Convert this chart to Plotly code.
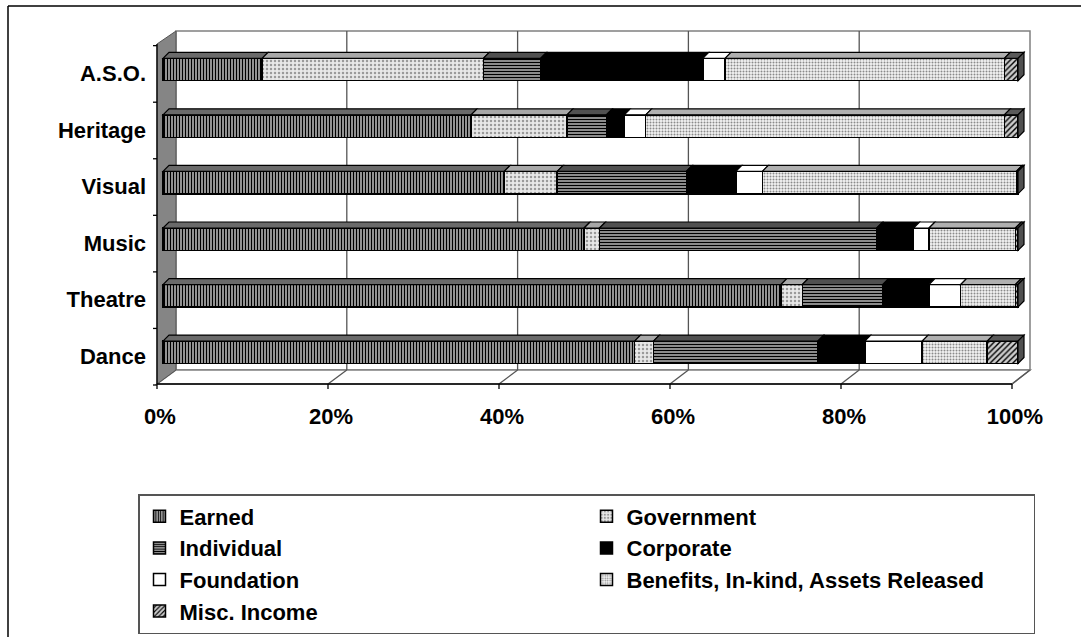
import plotly.graph_objects as go

# ---------------- data (percent of total revenue) ----------------
categories = ["Dance", "Theatre", "Music", "Visual", "Heritage", "A.S.O."]
earned      = [55.1, 72.2, 49.2, 39.9, 36.0, 11.6]
government  = [2.2, 2.5, 1.8, 6.2, 11.2, 25.9]
individual  = [19.2, 9.4, 32.4, 15.1, 4.6, 6.7]
corporate   = [5.5, 5.4, 4.3, 5.8, 2.1, 19.0]
foundation  = [6.7, 3.7, 1.8, 3.1, 2.5, 2.6]
benefits    = [7.6, 6.4, 10.1, 29.7, 41.9, 32.7]
misc_income = [3.6, 0.3, 0.3, 0.2, 1.6, 1.6]
series_names = ["Earned", "Government", "Individual", "Corporate", "Foundation",
                "Benefits, In-kind, Assets Released", "Misc. Income"]
tick_vals = [0, 20, 40, 60, 80, 100]
tick_text = ["0%", "20%", "40%", "60%", "80%", "100%"]

series = [earned, government, individual, corporate, foundation, benefits, misc_income]

# ---------------- styles ----------------
styles = [
    dict(shape="|", bg="#b0b0b0", fg="#000000", size=3, sol=0.45, top="#6a6a6a"),
    dict(shape=".", bg="#e8e8e8", fg="#9a9a9a", size=4, sol=0.3, top="#a8a8a8"),
    dict(shape="-", bg="#a8a8a8", fg="#000000", size=3, sol=0.45, top="#505050"),
    dict(shape="", bg="#000000", fg="#000000", size=4, sol=0.3, top="#000000"),
    dict(shape="", bg="#ffffff", fg="#ffffff", size=4, sol=0.3, top="#ffffff"),
    dict(shape=".", bg="#f4f4f4", fg="#8a8a8a", size=3, sol=0.35, top="#b0b0b0"),
    dict(shape="/", bg="#cccccc", fg="#000000", size=4, sol=0.35, top="#5a5a5a"),
]

FONT = "Liberation Sans, Arial, sans-serif"
FS = 22

# ---------------- geometry (pixels) ----------------
W, H = 1081, 637
PL, PR, PT, PB = 157, 1030, 31, 384          # plot area box
BAR_X0, BAR_X100 = 163, 1018                  # bar plane: 0% and 100%
ROW_Y0, ROW_STEP = 352.3, 56.56               # bar plane: first row centre, row step
SX = (BAR_X100 - BAR_X0) / 100.0
XR = [(PL - BAR_X0) / SX, (PR - BAR_X0) / SX]
YR = [(ROW_Y0 - PB) / ROW_STEP, (ROW_Y0 - PT) / ROW_STEP]
BAR_W = 22.4 / ROW_STEP
DEP_X, DEP_Y = 6.0 / SX, 6.0 / ROW_STEP       # bar depth in data units

FRONT_X0, FRONT_X100, FRONT_TOP, FRONT_BOT = 157, 1012, 44, 384
BACK_X0, BACK_X100, BACK_TOP, BACK_BOT = 176, 1030, 31, 370


def paper(xp, yp):
    return (xp - PL) / (PR - PL), (PB - yp) / (PB - PT)


def pline(x0, y0, x1, y1, color="#000000", width=1.2, layer="below"):
    a, b = paper(x0, y0), paper(x1, y1)
    return dict(type="line", xref="paper", yref="paper", x0=a[0], y0=a[1],
                x1=b[0], y1=b[1], line=dict(color=color, width=width), layer=layer)


def ppoly(pts, fill, color="#808080", width=1, layer="below"):
    s = ""
    for i, (xp, yp) in enumerate(pts):
        px, py = paper(xp, yp)
        s += ("M" if i == 0 else "L") + f"{px:.5f},{py:.5f} "
    return dict(type="path", xref="paper", yref="paper", path=s + "Z",
                fillcolor=fill, line=dict(color=color, width=width), layer=layer)


def dpoly(pts, fill, color="#000000", width=1.2):
    s = ""
    for i, (x, y) in enumerate(pts):
        s += ("M" if i == 0 else "L") + f"{x:.4f},{y:.4f} "
    return dict(type="path", xref="x", yref="y", path=s + "Z",
                fillcolor=fill, line=dict(color=color, width=width), layer="above")


shapes = []
# outer chart frame
shapes.append(pline(8, 6, 1100, 6, "#000000", 1.5))
shapes.append(pline(8, 6, 8, 660, "#000000", 1.5))
# back wall
shapes.append(ppoly([(BACK_X0, BACK_TOP), (BACK_X100, BACK_TOP), (BACK_X100, BACK_BOT),
                     (BACK_X0, BACK_BOT)], "#ffffff", "#808080", 1.5))
# floor
shapes.append(ppoly([(FRONT_X0, FRONT_BOT), (BACK_X0, BACK_BOT), (BACK_X100, BACK_BOT),
                     (FRONT_X100, FRONT_BOT)], "#ffffff", "#808080", 1.5))
# gridlines on back wall and floor
for v in tick_vals[1:]:
    xb = BACK_X0 + (BACK_X100 - BACK_X0) * v / 100
    xf = FRONT_X0 + (FRONT_X100 - FRONT_X0) * v / 100
    if v < 100:
        shapes.append(pline(xb, BACK_TOP, xb, BACK_BOT, "#555555", 1.3))
    shapes.append(pline(xb, BACK_BOT, xf, FRONT_BOT, "#555555", 1.3))
# left wall
shapes.append(ppoly([(FRONT_X0, FRONT_TOP), (BACK_X0, BACK_TOP), (BACK_X0, BACK_BOT),
                     (FRONT_X0, FRONT_BOT)], "#858585", "#555555", 1))
# front axes
shapes.append(pline(FRONT_X0, FRONT_TOP, FRONT_X0, FRONT_BOT, "#000000", 1.3))
shapes.append(pline(FRONT_X0, FRONT_BOT, FRONT_X100, FRONT_BOT, "#000000", 1.3))
for v in tick_vals:
    xf = FRONT_X0 + (FRONT_X100 - FRONT_X0) * v / 100
    shapes.append(pline(xf, FRONT_BOT, xf, FRONT_BOT + 5, "#000000", 1.3))
dyf = (FRONT_BOT - BACK_BOT) * (BAR_X0 - FRONT_X0) / (BACK_X0 - FRONT_X0)
for k in range(len(categories) + 1):
    yp = ROW_Y0 - ROW_STEP * (k - 0.5) + dyf
    shapes.append(pline(FRONT_X0 - 4, yp, FRONT_X0, yp, "#000000", 1.3))

# 3-D top faces and end faces of the bars, derived from the data
for r in range(len(categories)):
    tot = sum(s[r] for s in series)
    cum = 0.0
    ytop = r + BAR_W / 2
    ybot = r - BAR_W / 2
    for si, s in enumerate(series):
        v = s[r] / tot * 100
        x0, x1 = cum, cum + v
        cum = x1
        if v <= 0:
            continue
        shapes.append(dpoly([(x0, ytop), (x1, ytop), (x1 + DEP_X, ytop + DEP_Y),
                             (x0 + DEP_X, ytop + DEP_Y)], styles[si]["top"]))
    shapes.append(dpoly([(100, ybot), (100, ytop), (100 + DEP_X, ytop + DEP_Y),
                         (100 + DEP_X, ybot + DEP_Y)], "#505050"))

fig = go.Figure()
for name, vals, st in zip(series_names, series, styles):
    pattern = dict(shape=st["shape"], fgcolor=st["fg"], bgcolor=st["bg"],
                   size=st["size"], solidity=st["sol"], fillmode="replace")
    fig.add_trace(go.Bar(
        y=categories, x=vals, name=name, orientation="h", width=BAR_W,
        marker=dict(color=st["bg"], line=dict(color="#000000", width=1.5),
                    pattern=pattern),
    ))

lx, ly = paper(138, 494)
fig.update_layout(
    width=W, height=H,
    margin=dict(l=PL, r=W - PR, t=PT, b=H - PB, pad=0, autoexpand=False),
    barmode="stack", barnorm="percent",
    paper_bgcolor="#ffffff", plot_bgcolor="rgba(0,0,0,0)",
    font=dict(family=FONT, size=FS, color="#000000", weight="bold"),
    xaxis=dict(range=XR, tickvals=tick_vals, ticktext=tick_text, showgrid=False,
               zeroline=False, showline=False, ticks="", ticklabelstandoff=17,
               ticklabelshift=-3, tickfont=dict(family=FONT, size=FS, weight="bold"),
               fixedrange=True),
    yaxis=dict(range=YR, type="category", categoryorder="array",
               categoryarray=categories, showgrid=False, zeroline=False,
               showline=False, ticks="", ticklabelstandoff=10, ticklabelshift=4,
               tickfont=dict(family=FONT, size=FS, weight="bold"), fixedrange=True),
    legend=dict(orientation="h", x=lx, y=ly, xanchor="left", yanchor="top",
                entrywidth=402, entrywidthmode="pixels", traceorder="normal",
                bordercolor="#555555", borderwidth=1.5, bgcolor="#ffffff",
                font=dict(family=FONT, size=FS, weight="bold"), itemclick=False),
    shapes=shapes,
    bargap=0.3,
)

fig.write_html("out.html")
